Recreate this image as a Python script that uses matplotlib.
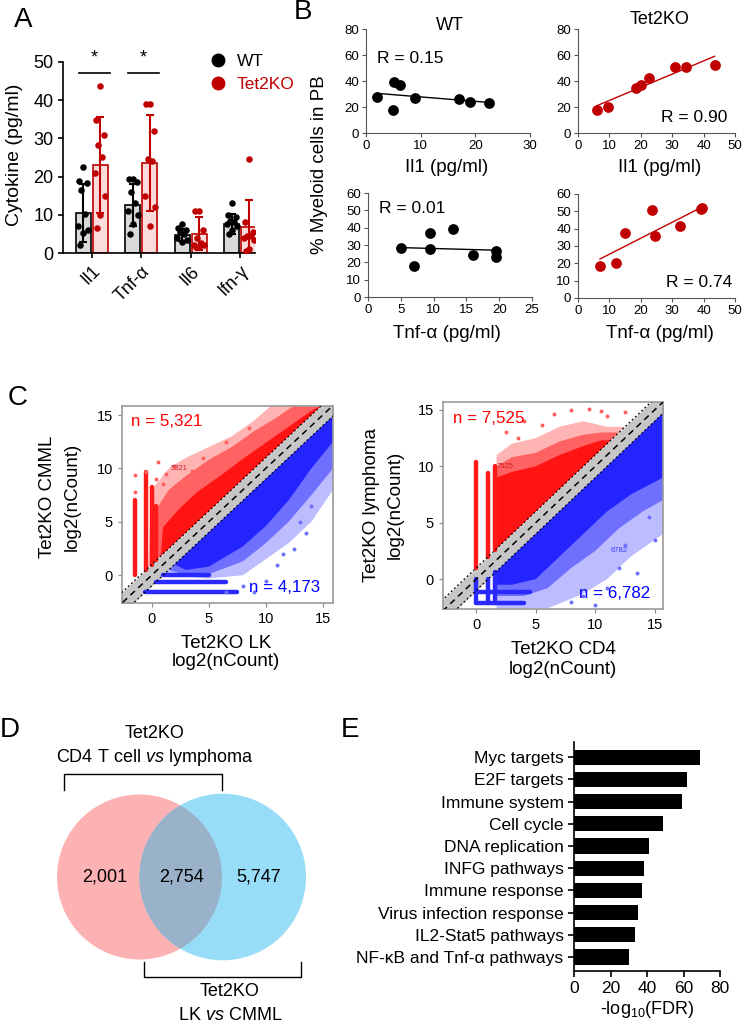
import numpy as np
import matplotlib
matplotlib.use('Agg')
import matplotlib.pyplot as plt
from matplotlib.patches import Circle, Polygon
from matplotlib.lines import Line2D

plt.rcParams['font.family'] = ['Liberation Sans', 'DejaVu Sans']
plt.rcParams['mathtext.fontset'] = 'custom'
plt.rcParams['mathtext.rm'] = 'Liberation Sans'
plt.rcParams['mathtext.it'] = 'Liberation Sans:italic'

RED = '#c00000'

# ---- panel A: cytokines ----
cytokines = ['Il1', 'Tnf-α', 'Il6', 'Ifn-γ']
wt_mean = [10.5, 12.5, 4.8, 7.7]
wt_sd = [7.5, 5.5, 1.6, 2.6]
ko_mean = [23.0, 23.5, 5.0, 6.8]
ko_sd = [12.5, 12.5, 4.3, 7.2]
wt_points = [[22.6, 18.9, 18.3, 16.5, 10.2, 7.0, 6.1, 5.2, 2.0],
             [19.5, 19.5, 18.5, 16.0, 13.0, 11.0, 10.0, 7.5, 5.0],
             [7.5, 6.5, 6.0, 5.5, 5.0, 4.0, 3.5, 3.0],
             [13.0, 10.0, 9.5, 8.5, 8.0, 7.5, 7.0, 6.0, 5.0]]
ko_points = [[43.7, 34.8, 30.9, 28.3, 25.2, 20.9, 14.8, 10.0, 6.5],
             [39.0, 39.0, 32.0, 24.5, 24.0, 15.0, 12.0, 7.0],
             [11.0, 11.0, 6.0, 4.0, 2.5, 2.0, 2.0, 1.5, 1.5],
             [24.5, 8.0, 5.5, 4.5, 4.5, 4.0, 3.5, 1.0, 0.5]]
signif = ['*', '*', '', '']

# ---- panel B: correlations ----
wt_il1_x = [2, 5, 5.2, 6.2, 9, 17, 19, 22.5]
wt_il1_y = [28, 18, 39, 37, 27, 26, 24, 23]
wt_il1_fit = ([2, 22.5], [30.5, 23.5])
ko_il1_x = [6, 9.5, 18.5, 20, 22.5, 31, 34.5, 43.5]
ko_il1_y = [18, 20, 35, 37, 42, 51, 51, 52]
ko_il1_fit = ([6, 43.5], [21, 59])
wt_tnf_x = [5, 7, 9.5, 9.5, 13, 16, 19.5, 19.5]
wt_tnf_y = [28, 18, 37, 27.5, 39, 24, 23, 26.5]
wt_tnf_fit = ([5, 19.5], [28.5, 27])
ko_tnf_x = [7, 12, 15, 23.5, 24.5, 32.5, 39.4, 39.2]
ko_tnf_y = [18.3, 20.2, 37.5, 51, 35.6, 41.7, 52, 51.2]
ko_tnf_fit = ([7, 39], [22.5, 52])
r_values = ['R = 0.15', 'R = 0.90', 'R = 0.01', 'R = 0.74']

# ---- panel C: expression scatter (outlines of the point clouds) ----
lk_red_light = [(-0.3, 0.7), (0, 8), (1.5, 10), (3, 11), (5, 12), (7, 13), (9, 14.5),
                (10.5, 15.9), (14.9, 15.9)]
lk_red_mid = [(0.2, 1.2), (0.3, 6), (1.5, 8), (3, 9.3), (5, 10.8), (7, 12), (9, 13.5),
              (11, 14.8), (12.5, 15.9), (14.9, 15.9)]
lk_red_dense = [(0.8, 1.8), (1, 4.5), (2.5, 6.3), (4, 7.8), (6, 9.3), (8, 10.9),
                (10, 12.4), (12, 13.9), (14, 15.4), (14.9, 15.9)]
lk_blue_light = [(1, 0), (5, -0.3), (8, 0), (10, 1.5), (12, 3), (14, 5), (15.9, 8),
                 (15.9, 14.9)]
lk_blue_mid = [(1.5, 0.5), (3, 0), (5, 0.1), (8, 1.3), (10, 3), (12, 5), (14, 7.5),
               (15.9, 10), (15.9, 14.9)]
lk_blue_dense = [(2, 1), (3, 0.5), (5, 0.8), (8, 2.7), (10, 4.6), (12, 7), (14, 10),
                 (15.9, 12.5), (15.9, 14.9)]
lk_red_cols = [(-1.5, 0, 7.0), (-0.5, 0.5, 9.7), (0.0, 1.0, 8.3), (0.4, 1.4, 6.5)]
lk_blue_cols = []
lk_blue_rows = [(0.0, 1.0, 5.0), (-0.6, 0.4, 6.5), (-1.6, -0.6, 7.5)]
lk_red_out_x = [-1.5, -0.5, 0.6, 1.3, 2.0, 3.5, 4.5, 6.5, 8.5, -1.5, 1.0, 2.5, 3.0, 0.4]
lk_red_out_y = [9.4, 9.7, 10.6, 9.5, 10.2, 9.8, 11.0, 12.5, 13.8, 7.8, 8.5, 7.5, 8.6, 9.0]
lk_blue_out_x = [9.0, 10.0, 11.0, 12.5, 13.0, 14.0, 15.5, 8.0, 6.5, 13.5, 11.5]
lk_blue_out_y = [-1.6, -0.5, 1.0, 2.5, 5.0, 6.5, 10.0, -1.0, -1.6, 4.0, 2.0]

cd4_red_light = [(1.7, 2.7), (1.7, 11), (3, 12), (5, 12.5), (7, 13.5), (9, 14),
                 (11, 13.5), (12.5, 13.5)]
cd4_red_mid = [(1.7, 2.7), (1.7, 10), (3, 10.8), (5, 11.2), (7, 12.2), (9, 12.8),
               (10.5, 13), (12, 13)]
cd4_red_dense = [(1.7, 2.7), (1.7, 9), (3, 9.5), (5, 10), (7, 11), (9, 11.8),
                 (10.5, 12.3), (11.3, 12.3)]
cd4_blue_light = [(1.7, 0.7), (1.7, -2.6), (6, -2.6), (9, -1.3), (11, 0), (13, 2),
                  (15.7, 4), (15.7, 14.7)]
cd4_blue_mid = [(1.7, 0.7), (1.7, -1.5), (4, -1.5), (6, -0.8), (8, 1), (10, 2.5),
                (12, 4.5), (14, 6), (15.7, 7), (15.7, 14.7)]
cd4_blue_dense = [(1.7, 0.7), (1.7, -0.5), (3, -0.5), (5, 0), (7, 2), (9, 4), (11, 6),
                  (13, 7.5), (15.7, 9), (15.7, 14.7)]
cd4_red_cols = [(0.0, 1.0, 10.4), (1.0, 2.0, 9.4), (1.6, 2.6, 10.0)]
cd4_blue_cols = [(0.0, -2.1, 0.0), (1.0, -2.1, 0.0), (1.6, -2.1, 0.6)]
cd4_blue_rows = [(-1.1, 0.0, 4.5), (-2.1, 0.0, 4.0)]
cd4_red_out_x = [2.5, 4.0, 6.5, 8.0, 9.5, 11.0, 12.5, 5.5, 3.5, 10.5]
cd4_red_out_y = [13.0, 14.0, 14.6, 15.0, 15.1, 14.5, 14.8, 13.7, 12.5, 14.9]
cd4_blue_out_x = [9.0, 10.0, 12.0, 13.5, 15.0, 15.5, 8.0, 11.0, 14.5, 12.5]
cd4_blue_out_y = [-1.5, -2.3, 1.0, 0.5, 3.5, 8.0, -2.0, -0.8, 5.5, 3.0]

# ---- panel D: venn counts ----
venn_counts = ['2,001', '2,754', '5,747']

# ---- panel E: pathways ----
pathways = ['Myc targets', 'E2F targets', 'Immune system', 'Cell cycle',
            'DNA replication', 'INFG pathways', 'Immune response',
            'Virus infection response', 'IL2-Stat5 pathways',
            'NF-κB and Tnf-α pathways']
fdr = [69, 62, 59, 49, 41, 38.3, 37, 35, 33.5, 30]

W, H = 750, 1024
fig = plt.figure(figsize=(W / 100, H / 100), dpi=100)


def px_axes(x0, y0, x1, y1):
    return fig.add_axes([x0 / W, 1 - y1 / H, (x1 - x0) / W, (y1 - y0) / H])


def ftext(x, y, s, **kw):
    fig.text(x / W, 1 - y / H, s, **kw)


for lab, x, y in [('A', 23, 20), ('B', 303, 12), ('C', 18, 398), ('D', 10, 730), ('E', 350, 730)]:
    ftext(x, y, lab, fontsize=20, ha='center', va='center')

# ---------------- A ----------------
ax = px_axes(63, 62, 255, 253)
xs = np.arange(len(cytokines))
off, bw = 0.17, 0.3
jit = [0.0, -0.08, 0.08, -0.04, 0.04, -0.1, 0.1, 0.0, -0.06]
for i in range(len(cytokines)):
    for c, (mean, sd, pts, fc, ec) in enumerate([
            (wt_mean[i], wt_sd[i], wt_points[i], '#d9d9d9', 'black'),
            (ko_mean[i], ko_sd[i], ko_points[i], '#fbdcdc', RED)]):
        xc = xs[i] + (-off if c == 0 else off)
        ax.bar(xc, mean, width=bw, color=fc, edgecolor=ec, linewidth=1.2, zorder=1)
        ax.errorbar(xc, mean, yerr=sd, color=ec, capsize=3, lw=1.5, capthick=1.5, zorder=2)
        ax.scatter(xc + np.array(jit[:len(pts)]), pts, s=22, color=ec, zorder=3, lw=0)
    if signif[i]:
        ax.plot([xs[i] - 0.26, xs[i] + 0.36], [47.2, 47.2], color='black', lw=1.2, clip_on=False)
        ax.text(xs[i] + 0.05, 51, signif[i], ha='center', va='center', fontsize=13)
ax.set_xlim(-0.58, 3.3)
ax.set_ylim(0, 50)
ax.set_yticks([0, 10, 20, 30, 40, 50])
ax.set_xticks(xs)
ax.set_xticklabels(cytokines, rotation=45, ha='right', rotation_mode='anchor')
ax.tick_params(labelsize=13, width=1.2)
for s in ['top', 'right']:
    ax.spines[s].set_visible(False)
for s in ['left', 'bottom']:
    ax.spines[s].set_linewidth(1.2)
handles = [Line2D([], [], marker='o', ls='', color='black', ms=9, label='WT'),
           Line2D([], [], marker='o', ls='', color=RED, ms=9, label='Tet2KO')]
ax.legend(handles=handles, loc='upper left', bbox_to_anchor=(0.68, 1.08), frameon=False,
          fontsize=12.5, labelcolor=['black', RED], handletextpad=0.1, borderaxespad=0,
          labelspacing=0.45)
ftext(15, 155, 'Cytokine (pg/ml)', rotation=90, ha='center', va='center', fontsize=14)

# ---------------- B ----------------
b_specs = [
    ((366, 29, 530, 133), wt_il1_x, wt_il1_y, wt_il1_fit, 'black', (0, 30), (0, 80),
     [0, 10, 20, 30], [0, 20, 40, 60, 80], r_values[0], (0.07, 0.72, 'left')),
    ((578, 29, 735, 133), ko_il1_x, ko_il1_y, ko_il1_fit, RED, (0, 50), (0, 80),
     [0, 10, 20, 30, 40, 50], [0, 20, 40, 60, 80], r_values[1], (0.95, 0.15, 'right')),
    ((368, 193, 532, 297), wt_tnf_x, wt_tnf_y, wt_tnf_fit, 'black', (0, 25), (0, 60),
     [0, 5, 10, 15, 20, 25], [0, 10, 20, 30, 40, 50, 60], r_values[2], (0.07, 0.85, 'left')),
    ((578, 194, 735, 298), ko_tnf_x, ko_tnf_y, ko_tnf_fit, RED, (0, 50), (0, 60),
     [0, 10, 20, 30, 40, 50], [0, 10, 20, 30, 40, 50, 60], r_values[3], (0.98, 0.15, 'right')),
]
for box, bx, by, fit, col, xl, yl, xt, yt, rtxt, (rx, ry, rha) in b_specs:
    ax = px_axes(*box)
    ax.plot(fit[0], fit[1], color=col, lw=1)
    ax.scatter(bx, by, s=60, color=col, zorder=3, lw=0)
    ax.set_xlim(*xl)
    ax.set_ylim(*yl)
    ax.set_xticks(xt)
    ax.set_yticks(yt)
    ax.tick_params(labelsize=9.5, length=3, color='#555555', pad=2)
    for s in ['top', 'right']:
        ax.spines[s].set_visible(False)
    for s in ['left', 'bottom']:
        ax.spines[s].set_color('#555555')
    ax.text(rx, ry, rtxt, transform=ax.transAxes, ha=rha, va='center', fontsize=12.5)
ftext(450, 25, 'WT', ha='center', va='center', fontsize=13)
ftext(660, 20, 'Tet2KO', ha='center', va='center', fontsize=13)
ftext(447, 168, 'Il1 (pg/ml)', ha='center', va='center', fontsize=13.5)
ftext(660, 168, 'Il1 (pg/ml)', ha='center', va='center', fontsize=13.5)
ftext(447, 333, 'Tnf-α (pg/ml)', ha='center', va='center', fontsize=13.5)
ftext(660, 333, 'Tnf-α (pg/ml)', ha='center', va='center', fontsize=13.5)
ftext(320, 165, '% Myeloid cells in PB', rotation=90, ha='center', va='center', fontsize=13.5)


# ---------------- C ----------------
def draw_scatter(box, xl, yl, reds, blues, red_cols, blue_rows, blue_cols,
                 rox, roy, box_, boy, n_red, n_blue, small_red, small_blue):
    ax = px_axes(*box)
    lo, hi = min(xl[0], yl[0]), max(xl[1], yl[1])
    xx = np.array([lo - 2, hi + 2])
    ax.fill_between(xx, xx - 1, xx + 1, color='#c6c6c6', lw=0, zorder=1)
    for pts, col in zip(reds, ['#ffb4b4', '#ff6262', '#ff1414']):
        ax.add_patch(Polygon(pts, closed=True, fc=col, ec='none', zorder=1))
    for pts, col in zip(blues, ['#bcbcff', '#7070ff', '#2424ff']):
        ax.add_patch(Polygon(pts, closed=True, fc=col, ec='none', zorder=1))
    for x, y0, y1 in red_cols:
        ax.plot([x, x], [y0, y1], color='#ff1a1a', lw=3.2, solid_capstyle='round', zorder=2)
    for y, x0, x1 in blue_rows:
        ax.plot([x0, x1], [y, y], color='#2a2aff', lw=3.2, solid_capstyle='round', zorder=2)
    for x, y0, y1 in blue_cols:
        ax.plot([x, x], [y0, y1], color='#2a2aff', lw=3.2, solid_capstyle='round', zorder=2)
    ax.scatter(rox, roy, s=8, color='#ff6060', lw=0, zorder=2)
    ax.scatter(box_, boy, s=8, color='#7070ff', lw=0, zorder=2)
    ax.plot(xx, xx, color='black', ls=(0, (4, 3)), lw=1.1, zorder=4)
    ax.plot(xx, xx + 1, color='black', ls=(0, (1.5, 2)), lw=0.9, zorder=4)
    ax.plot(xx, xx - 1, color='black', ls=(0, (1.5, 2)), lw=0.9, zorder=4)
    ax.set_xlim(*xl)
    ax.set_ylim(*yl)
    ax.set_xticks([0, 5, 10, 15])
    ax.set_yticks([0, 5, 10, 15])
    ax.tick_params(labelsize=10.5, length=3, color='#888888')
    for s in ax.spines.values():
        s.set_color('#999999')
        s.set_linewidth(1.2)
    ax.text(0.045, 0.92, n_red, transform=ax.transAxes, color='red', fontsize=12.2, va='center')
    ax.text(0.94, 0.077, n_blue, transform=ax.transAxes, color='blue', fontsize=12.2,
            va='center', ha='right')
    if small_red:
        ax.text(*small_red, color='#cc2020', fontsize=5.5, ha='center', va='center', zorder=5)
    if small_blue:
        ax.text(*small_blue, color='#4040ff', fontsize=5.5, ha='center', va='center', zorder=5)
    return ax


draw_scatter((122, 406, 333, 603), (-2.6, 15.9), (-2.6, 15.85),
             [lk_red_light, lk_red_mid, lk_red_dense],
             [lk_blue_light, lk_blue_mid, lk_blue_dense],
             lk_red_cols, lk_blue_rows, lk_blue_cols, lk_red_out_x, lk_red_out_y,
             lk_blue_out_x, lk_blue_out_y, 'n = 5,321', 'n = 4,173',
             (2.4, 10.0, '5321'), None)
draw_scatter((443, 402, 663, 609), (-2.8, 15.7), (-2.65, 15.7),
             [cd4_red_light, cd4_red_mid, cd4_red_dense],
             [cd4_blue_light, cd4_blue_mid, cd4_blue_dense],
             cd4_red_cols, cd4_blue_rows, cd4_blue_cols, cd4_red_out_x, cd4_red_out_y,
             cd4_blue_out_x, cd4_blue_out_y, 'n = 7,525', 'n = 6,782',
             (2.4, 10.0, '7525'), (12.0, 2.5, '6782'))
ftext(226, 643, 'Tet2KO LK', ha='center', va='center', fontsize=13.5)
ftext(226, 662, 'log2(nCount)', ha='center', va='center', fontsize=13.5)
ftext(563, 650, 'Tet2KO CD4', ha='center', va='center', fontsize=13.5)
ftext(563, 669, 'log2(nCount)', ha='center', va='center', fontsize=13.5)
ftext(47, 497, 'Tet2KO CMML', rotation=90, ha='center', va='center', fontsize=13.5)
ftext(72, 497, 'log2(nCount)', rotation=90, ha='center', va='center', fontsize=13.5)
ftext(371, 505, 'Tet2KO lymphoma', rotation=90, ha='center', va='center', fontsize=13.5)
ftext(395, 505, 'log2(nCount)', rotation=90, ha='center', va='center', fontsize=13.5)

# ---------------- D ----------------
ax = px_axes(0, 690, 375, 1024)
ax.set_xlim(0, 375)
ax.set_ylim(1024, 690)
ax.axis('off')
left_c = Circle((139.5, 877), 82.5, fc='#fcb1b3', ec='none')
right_c = Circle((222.7, 877), 83.3, fc='#98ddf7', ec='none')
ax.add_patch(left_c)
ax.add_patch(right_c)
clip_c = Circle((139.5, 877), 82.5, transform=ax.transData)
lens = Circle((222.7, 877), 83.3, fc='#99b1c9', ec='none')
ax.add_patch(lens)
lens.set_clip_path(clip_c)
for x, s in zip([105, 181, 259], venn_counts):
    ax.text(x, 877, s, ha='center', va='center', fontsize=13)
ax.plot([64, 64, 222, 222], [790, 774, 774, 790], color='black', lw=1)
ax.plot([144, 144, 301, 301], [962, 977, 977, 962], color='black', lw=1)
ax.text(155, 733, 'Tet2KO', ha='center', va='center', fontsize=13)
ax.text(155, 757, r'CD4 T cell $\it{vs}$ lymphoma', ha='center', va='center', fontsize=13)
ax.text(230, 992, 'Tet2KO', ha='center', va='center', fontsize=13)
ax.text(230, 1015, r'LK $\it{vs}$ CMML', ha='center', va='center', fontsize=13)

# ---------------- E ----------------
ax = px_axes(574, 742, 720, 971)
ys = np.arange(len(pathways))
ax.barh(ys, fdr, height=0.68, color='black')
ax.set_ylim(len(pathways) - 1 + 0.63, -0.68)
ax.set_xlim(0, 80)
ax.set_yticks(ys)
ax.set_yticklabels(pathways)
ax.set_xticks([0, 20, 40, 60, 80])
ax.tick_params(labelsize=12.5, width=1.2, length=4)
for s in ['top', 'right']:
    ax.spines[s].set_visible(False)
for s in ['left', 'bottom']:
    ax.spines[s].set_linewidth(1.2)
ftext(647, 1010, '-log$_{10}$(FDR)', ha='center', va='center', fontsize=13)

fig.savefig('out.png', dpi=100)
